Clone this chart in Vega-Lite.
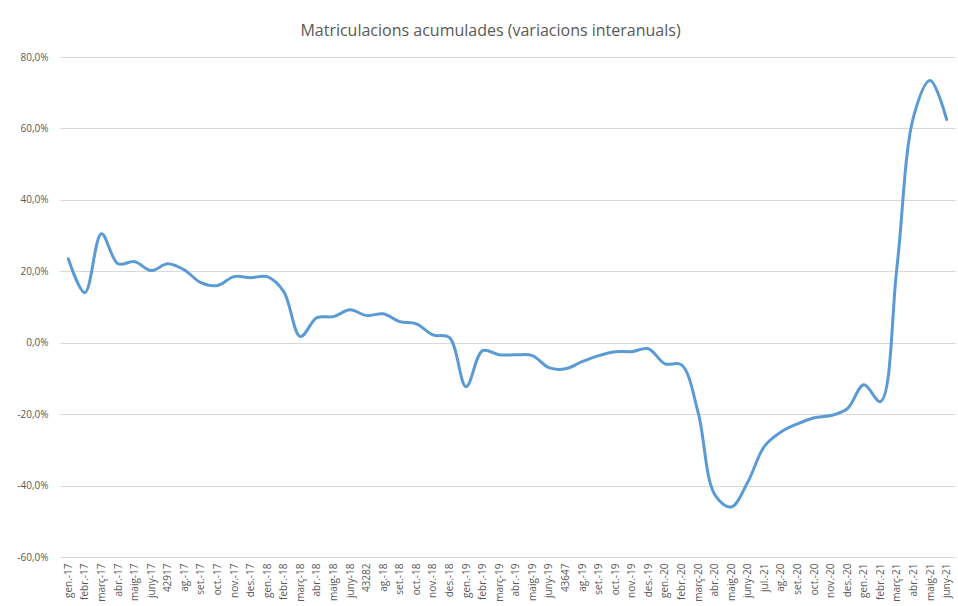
{
  "$schema": "https://vega.github.io/schema/vega-lite/v6.json",
  "width": 895,
  "height": 500,
  "autosize": "none",
  "padding": {"left": 60, "top": 57, "right": 3, "bottom": 49},
  "background": "white",
  "title": {
    "text": "Matriculacions acumulades (variacions interanuals)",
    "fontSize": 16,
    "font": "Open Sans",
    "fontWeight": "normal",
    "color": "#595959",
    "anchor": "middle",
    "dx": -17,
    "offset": 13
  },
  "data": {
    "values": [
      {"m": "gen.-17", "v": 23.5},
      {"m": "febr.-17", "v": 14.0},
      {"m": "març-17", "v": 30.5},
      {"m": "abr.-17", "v": 22.1},
      {"m": "maig-17", "v": 22.7},
      {"m": "juny-17", "v": 20.2},
      {"m": "42917", "v": 22.1},
      {"m": "ag.-17", "v": 20.4},
      {"m": "set.-17", "v": 16.8},
      {"m": "oct.-17", "v": 16.0},
      {"m": "nov.-17", "v": 18.5},
      {"m": "des.-17", "v": 18.2},
      {"m": "gen.-18", "v": 18.5},
      {"m": "febr.-18", "v": 14.3},
      {"m": "març-18", "v": 1.7},
      {"m": "abr.-18", "v": 7.0},
      {"m": "maig-18", "v": 7.3},
      {"m": "juny-18", "v": 9.2},
      {"m": "43282", "v": 7.6},
      {"m": "ag.-18", "v": 8.1},
      {"m": "set.-18", "v": 5.9},
      {"m": "oct.-18", "v": 5.3},
      {"m": "nov.-18", "v": 2.2},
      {"m": "des.-18", "v": 1.4},
      {"m": "gen.-19", "v": -12.3},
      {"m": "febr.-19", "v": -2.2},
      {"m": "març-19", "v": -3.4},
      {"m": "abr.-19", "v": -3.4},
      {"m": "maig-19", "v": -3.6},
      {"m": "juny-19", "v": -7.0},
      {"m": "43647", "v": -7.3},
      {"m": "ag.-19", "v": -5.3},
      {"m": "set.-19", "v": -3.6},
      {"m": "oct.-19", "v": -2.5},
      {"m": "nov.-19", "v": -2.5},
      {"m": "des.-19", "v": -1.7},
      {"m": "gen.-20", "v": -5.9},
      {"m": "febr.-20", "v": -6.2},
      {"m": "març-20", "v": -19.5},
      {"m": "abr.-20", "v": -42.5},
      {"m": "maig-20", "v": -46.0},
      {"m": "juny-20", "v": -39.0},
      {"m": "jul.-21", "v": -29.0},
      {"m": "ag.-20", "v": -25.0},
      {"m": "set.-20", "v": -22.7},
      {"m": "oct.-20", "v": -21.0},
      {"m": "nov.-20", "v": -20.4},
      {"m": "des.-20", "v": -18.5},
      {"m": "gen.-21", "v": -11.8},
      {"m": "febr.-21", "v": -16.5},
      {"m": "març-21", "v": 21.3},
      {"m": "abr.-21", "v": 63.3},
      {"m": "maig-21", "v": 73.4},
      {"m": "juny-21", "v": 62.5}
    ]
  },
  "mark": {"type": "line", "interpolate": "catmull-rom", "color": "#5B9BD5", "strokeWidth": 3, "strokeCap": "round"},
  "encoding": {
    "x": {
      "field": "m",
      "type": "ordinal",
      "sort": null,
      "scale": {"type": "point", "padding": 0.5},
      "axis": {
        "title": null,
        "labelAngle": -90,
        "labelFontSize": 10,
        "labelFont": "Open Sans",
        "labelColor": "#595959",
        "labelPadding": 6,
        "ticks": false,
        "domain": false,
        "grid": false
      }
    },
    "y": {
      "field": "v",
      "type": "quantitative",
      "scale": {"domain": [-60, 80], "nice": false, "zero": false},
      "axis": {
        "title": null,
        "values": [-60, -40, -20, 0, 20, 40, 60, 80],
        "labelExpr": "replace(replace(format(datum.value, '.1f'), '.', ','), '\u2212', '-') + '%'",
        "labelFontSize": 10,
        "labelFont": "Open Sans",
        "labelColor": "#595959",
        "labelPadding": 12,
        "ticks": false,
        "domain": false,
        "grid": true,
        "gridColor": "#d9d9d9",
        "gridWidth": 1
      }
    }
  },
  "config": {"view": {"stroke": null}}
}
